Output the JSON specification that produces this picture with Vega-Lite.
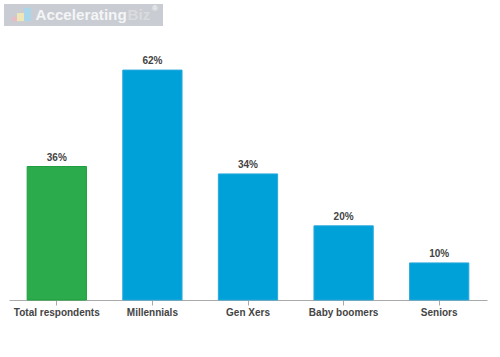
{"$schema":"https://vega.github.io/schema/vega-lite/v6.json","width":478,"height":300,"autosize":{"type":"none"},"padding":{"left":9,"top":0,"right":13,"bottom":57},"background":"white","config":{"view":{"stroke":null},"font":"Liberation Sans"},"datasets":{"bars":[{"group":"Total respondents","pct":36,"label":"36%","kind":"total"},{"group":"Millennials","pct":62,"label":"62%","kind":"age"},{"group":"Gen Xers","pct":34,"label":"34%","kind":"age"},{"group":"Baby boomers","pct":20,"label":"20%","kind":"age"},{"group":"Seniors","pct":10,"label":"10%","kind":"age"}],"logoBox":[{"a":-5,"b":154,"lo":73.9,"hi":79.8,"c":"box"},{"a":3,"b":10,"lo":75.2,"hi":76.4,"c":"pink"},{"a":8,"b":17,"lo":75.2,"hi":77.4,"c":"cream"},{"a":15,"b":22,"lo":75.2,"hi":78.8,"c":"sky"}],"logoText":[{"a":26.5,"v":76.8,"t":"Accelerating","c":"main","s":"t"},{"a":118.5,"v":76.8,"t":"Biz","c":"soft","s":"t"},{"a":143,"v":78.6,"t":"®","c":"main","s":"r"}]},"resolve":{"scale":{"x":"independent","color":"independent","fill":"independent","stroke":"independent"}},"layer":[{"data":{"name":"bars"},"mark":{"type":"bar","strokeWidth":1},"encoding":{"x":{"field":"group","type":"nominal","sort":null,"scale":{"paddingInner":0.38,"paddingOuter":0.19},"axis":{"title":null,"labelAngle":0,"labelFontSize":10,"labelFontWeight":"bold","labelColor":"#444444","labelPadding":2,"tickColor":"#aaaaaa","tickSize":5,"domainColor":"#aaaaaa","domainWidth":1,"grid":false,"labelFont":"Liberation Sans"}},"y":{"field":"pct","type":"quantitative","scale":{"domain":[0,80.9],"nice":false},"axis":null},"fill":{"field":"kind","type":"nominal","scale":{"domain":["total","age"],"range":["#2bab4b","#00a0d8"]},"legend":null},"stroke":{"field":"kind","type":"nominal","scale":{"domain":["total","age"],"range":["#1f9e3f","#2aa9dc"]},"legend":null}}},{"data":{"name":"bars"},"mark":{"type":"text","dy":-9,"fontSize":10,"fontWeight":"bold","color":"#444444"},"encoding":{"x":{"field":"group","type":"nominal","sort":null,"scale":{"paddingInner":0.38,"paddingOuter":0.19},"axis":null},"y":{"field":"pct","type":"quantitative"},"text":{"field":"label"}}},{"data":{"name":"logoBox"},"mark":{"type":"rect","clip":false},"encoding":{"x":{"field":"a","type":"quantitative","scale":{"domain":[0,478],"nice":false,"zero":false},"axis":null},"x2":{"field":"b"},"y":{"field":"lo","type":"quantitative"},"y2":{"field":"hi"},"color":{"field":"c","type":"nominal","scale":{"domain":["box","pink","cream","sky"],"range":["#c9cdd3","#e8bcc4","#efe6b8","#a9d6ea"]},"legend":null}}},{"data":{"name":"logoText"},"mark":{"type":"text","align":"left","baseline":"middle","fontWeight":"bold","clip":false},"encoding":{"x":{"field":"a","type":"quantitative","scale":{"domain":[0,478],"nice":false,"zero":false},"axis":null},"y":{"field":"v","type":"quantitative"},"text":{"field":"t"},"size":{"field":"s","type":"nominal","scale":{"domain":["t","r"],"range":[15.2,8]},"legend":null},"color":{"field":"c","type":"nominal","scale":{"domain":["main","soft"],"range":["#f4f5f6","#d9dbde"]},"legend":null}}}]}
